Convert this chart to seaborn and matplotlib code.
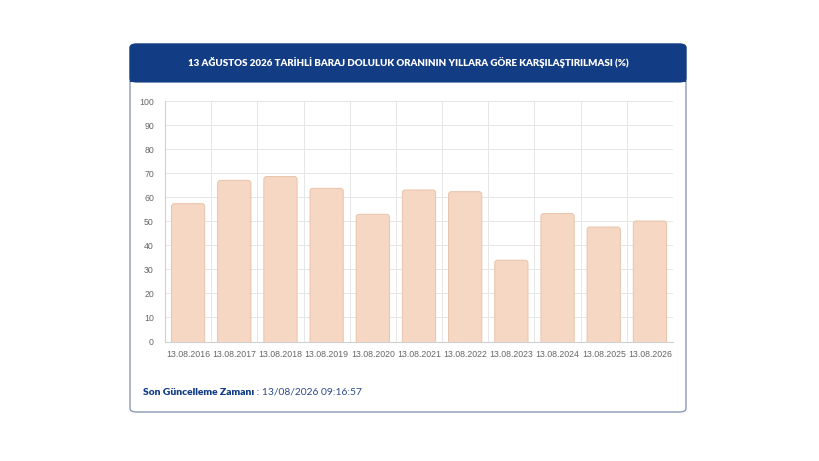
import numpy as np
import pandas as pd
import matplotlib
matplotlib.use('Agg')
import matplotlib.pyplot as plt
import seaborn as sns
from matplotlib.patches import FancyBboxPatch, Rectangle

# data
dates = ['13.08.2016', '13.08.2017', '13.08.2018', '13.08.2019', '13.08.2020', '13.08.2021',
         '13.08.2022', '13.08.2023', '13.08.2024', '13.08.2025', '13.08.2026']
fill_rate = [57.3, 67.0, 68.6, 63.7, 52.9, 63.0, 62.3, 33.8, 53.2, 47.6, 50.1]
title = '13 AĞUSTOS 2026 TARİHLİ BARAJ DOLULUK ORANININ YILLARA GÖRE KARŞILAŞTIRILMASI (%)'
update_label = 'Son Güncelleme Zamanı'
update_time = '13/08/2026 09:16:57'

sns.set_theme(style='white')
plt.rcParams['font.family'] = ['Lato', 'DejaVu Sans']

W, H = 820, 461
fig = plt.figure(figsize=(W / 100, H / 100), dpi=100)
fig.patch.set_facecolor('white')

navy = '#123c84'

# card
card = FancyBboxPatch((130 / W, 1 - 412 / H), 556 / W, 368 / H,
                      boxstyle='round,pad=0,rounding_size=0.008',
                      transform=fig.transFigure, facecolor='white',
                      edgecolor='#8a9ab8', linewidth=1.0, zorder=-2)
fig.patches.append(card)
hdr = FancyBboxPatch((130 / W, 1 - 82 / H), 556 / W, 38 / H,
                     boxstyle='round,pad=0,rounding_size=0.008',
                     transform=fig.transFigure, facecolor=navy, edgecolor=navy,
                     linewidth=0.8, zorder=-1)
fig.patches.append(hdr)
fig.patches.append(Rectangle((130 / W, 1 - 82 / H), 556 / W, 15 / H,
                             transform=fig.transFigure, facecolor=navy, edgecolor='none',
                             zorder=-1))
fig.text(408 / W, 1 - 63 / H, title, color='white', fontsize=7.0, fontweight='heavy',
         ha='center', va='center')

# chart
ax = fig.add_axes([165 / W, 1 - 341.5 / H, 508 / W, 240.5 / H])
ax.set_zorder(5)
ax.patch.set_alpha(0)
df = pd.DataFrame({'date': dates, 'rate': fill_rate})
sns.barplot(data=df, x='date', y='rate', ax=ax, color='#f6d7c3', saturation=1,
            width=0.72, linewidth=0, zorder=3)

# rounded bar tops (chart.js look), bottoms pushed under the axis and clipped
for p in list(ax.patches):
    x0, y0, w, h = p.get_x(), p.get_y(), p.get_width(), p.get_height()
    rb = FancyBboxPatch((x0, y0 - 3), w, h + 3, boxstyle='round,pad=0,rounding_size=0.06',
                        mutation_aspect=20, facecolor='#f6d7c3', edgecolor='#e8c3aa',
                        linewidth=0.7, zorder=3)
    ax.add_patch(rb)
    p.remove()

ax.set_xlim(-0.5, len(dates) - 0.5)
ax.set_ylim(0, 100)
ax.set_yticks(np.arange(0, 101, 10))
ax.set_xticks(np.arange(-0.5, len(dates), 1), minor=True)
ax.set_xlabel('')
ax.set_ylabel('')
ax.set_axisbelow(True)
ax.grid(axis='y', which='major', color='#e6e6e6', linewidth=0.7)
ax.grid(axis='x', which='minor', color='#e6e6e6', linewidth=0.7)
ax.tick_params(axis='x', which='major', length=0, labelsize=6.3, labelcolor='#666666', pad=6)
ax.tick_params(axis='x', which='minor', length=5, color='#e6e6e6')
ax.tick_params(axis='y', length=5, color='#e6e6e6', labelsize=6.3, labelcolor='#666666', pad=3)
for lbl in ax.get_xticklabels() + ax.get_yticklabels():
    lbl.set_family(['Liberation Sans', 'DejaVu Sans'])
for s in ['top', 'right']:
    ax.spines[s].set_visible(False)
for s in ['left', 'bottom']:
    ax.spines[s].set_color('#d0d0d0')
    ax.spines[s].set_linewidth(0.8)

# footer
t = fig.text(143 / W, 1 - 392 / H, update_label, color=navy, fontsize=7.4, fontweight='heavy',
             ha='left', va='center')
fig.canvas.draw()
bb = t.get_window_extent()
fig.text(bb.x1 / W, 1 - 392 / H, ' : ' + update_time, color='#2b4a86', fontsize=7.4,
         fontweight='normal', ha='left', va='center')

fig.savefig('out.png', dpi=100)
